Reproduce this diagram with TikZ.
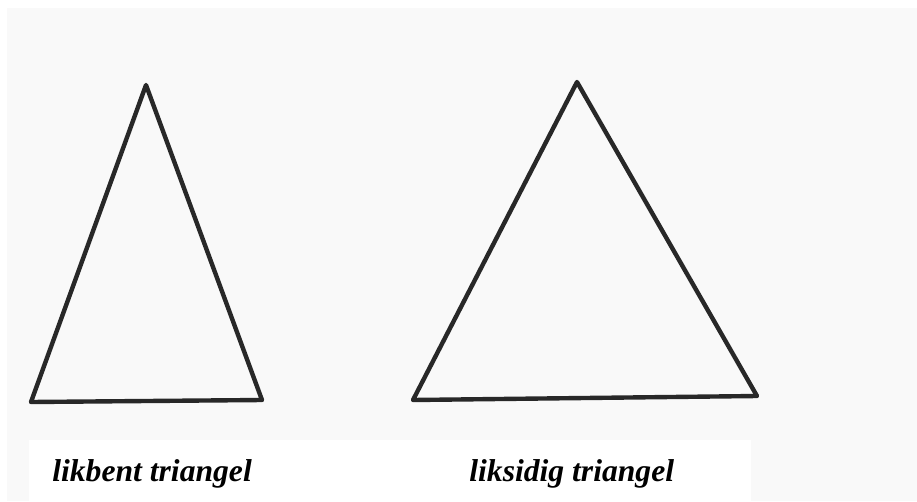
\documentclass[tikz,border=0pt]{standalone}
\usepackage{fontspec}
\setmainfont{Liberation Serif}
\usepackage{xcolor}
\usetikzlibrary{positioning}
\definecolor{scangray}{RGB}{249,249,249}
\definecolor{penink}{RGB}{40,40,40}
\tikzset{
  pen/.style={
    draw=penink,
    line width=2.5pt,
    line join=round,
    line cap=round
  },
  caption/.style={
    font=\fontsize{18}{22}\selectfont\bfseries\itshape,
    anchor=base west,
    inner sep=0pt
  }
}

\begin{document}
\begin{tikzpicture}[x=0.02cm,y=-0.02cm]
\useasboundingbox (0,0) rectangle (917,501);
\fill[white] (0,0) rectangle (917,501);
\fill[scangray] (7,8) rectangle (917,501);
\fill[white] (29,440) rectangle (751,501);
% likbent
\coordinate (iA) at (146,85);
\coordinate (iB) at (31,402);
\coordinate (iC) at (262,400);
\draw[pen] (iA) -- (iB) -- (iC) -- cycle;
% liksidig
\coordinate (eA) at (577,82);
\coordinate (eB) at (413,400);
\coordinate (eC) at (757,396);
\draw[pen] (eA) -- (eB) -- (eC) -- cycle;
\node[caption] (isolabel) at (52,481) {likbent triangel};
\node[caption] (equilabel) at (469,481) {liksidig triangel};
\end{tikzpicture}
\end{document}
